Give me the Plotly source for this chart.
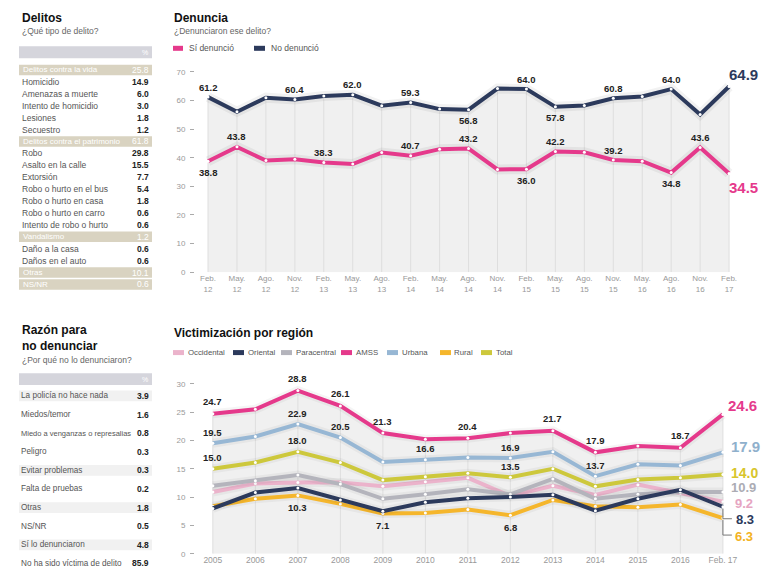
import plotly.graph_objects as go

W, H = 766, 588

# ---------------- data ----------------
crime_labels = ["Delitos contra la vida", "Homicidio", "Amenazas a muerte", "Intento de homicidio",
                "Lesiones", "Secuestro", "Delitos contra el patrimonio", "Robo", "Asalto en la calle",
                "Extorsión", "Robo o hurto en el bus", "Robo o hurto en casa", "Robo o hurto en carro",
                "Intento de robo o hurto", "Vandalismo", "Daño a la casa", "Daños en el auto",
                "Otras", "NS/NR"]
crime_values = ["25.8", "14.9", "6.0", "3.0", "1.8", "1.2", "61.8", "29.8", "15.5", "7.7", "5.4",
                "1.8", "0.6", "0.6", "1.2", "0.6", "0.6", "10.1", "0.6"]
crime_group = [1, 0, 0, 0, 0, 0, 1, 0, 0, 0, 0, 0, 0, 0, 1, 0, 0, 1, 1]

reason_labels = ["La policía no hace nada", "Miedos/temor", "Miedo a venganzas o represalias",
                 "Peligro", "Evitar problemas", "Falta de pruebas", "Otras", "NS/NR",
                 "Sí lo denunciaron", "No ha sido víctima de delito"]
reason_values = ["3.9", "1.6", "0.8", "0.3", "0.3", "0.2", "1.8", "0.5", "4.8", "85.9"]

den_periods = ["Feb.<br>12", "May.<br>12", "Ago.<br>12", "Nov.<br>12", "Feb.<br>13", "May.<br>13",
               "Ago.<br>13", "Feb.<br>14", "May.<br>14", "Ago.<br>14", "Nov.<br>14", "Feb.<br>15",
               "May.<br>15", "Ago.<br>15", "Nov.<br>15", "May.<br>16", "Ago.<br>16", "Nov.<br>16",
               "Feb.<br>17"]
si_denuncio = [38.8, 43.8, 39.0, 39.5, 38.3, 37.8, 41.8, 40.7, 43.0, 43.2, 35.9, 36.0, 42.2,
               41.9, 39.2, 38.8, 34.8, 43.6, 34.5]
no_denuncio = [61.2, 56.1, 61.0, 60.4, 61.6, 62.0, 58.2, 59.3, 57.0, 56.8, 64.2, 64.0, 57.8,
               58.3, 60.8, 61.4, 64.0, 55.1, 64.9]
si_labels = {0: "below", 1: "above", 4: "above", 7: "above", 9: "above", 11: "below",
             12: "above", 14: "above", 16: "below", 17: "above"}
no_labels = {0: "above", 3: "above", 5: "above", 7: "above", 9: "below", 11: "above",
             12: "below", 14: "above", 16: "above"}

years = ["2005", "2006", "2007", "2008", "2009", "2010", "2011", "2012", "2013", "2014",
         "2015", "2016", "Feb. 17"]
occidental = [10.9, 12.4, 12.6, 12.6, 11.9, 12.7, 13.4, 10.2, 12.0, 10.4, 12.2, 10.7, 9.2]
oriental = [8.0, 10.8, 11.6, 9.5, 7.5, 9.1, 9.8, 10.0, 10.4, 7.6, 9.7, 11.3, 8.3]
paracentral = [12.0, 12.9, 13.9, 12.3, 9.7, 10.5, 11.4, 10.5, 13.2, 9.7, 10.5, 10.9, 10.9]
amss = [24.7, 25.5, 28.8, 26.1, 21.3, 20.2, 20.4, 21.3, 21.7, 17.9, 19.0, 18.7, 24.6]
urbana = [19.5, 20.7, 22.9, 20.5, 16.2, 16.6, 17.0, 16.9, 18.0, 13.7, 15.8, 15.6, 17.9]
rural = [8.4, 9.7, 10.3, 8.8, 7.1, 7.2, 7.8, 6.8, 9.5, 8.4, 8.2, 8.7, 6.3]
total = [15.0, 16.1, 18.0, 16.1, 13.0, 13.6, 14.2, 13.5, 15.0, 11.9, 13.1, 13.4, 14.0]
amss_labels = [0, 2, 3, 4, 6, 8, 9, 11]
urbana_labels = [0, 2, 3, 5, 7, 9]
total_labels = [0, 2, 7]
rural_labels = [2, 4, 7]

# ---------------- style ----------------
PINK = "#e5398b"
NAVY = "#2c3a5c"
C_OCC = "#ebb3cb"
C_ORI = "#2c3a5c"
C_PAR = "#b4b4bc"
C_AMSS = "#e5398b"
C_URB = "#97b7d4"
C_RUR = "#f5b62c"
C_TOT = "#cdc83c"
FONT = "Liberation Sans"
TXT = "#555555"
FILL = "#f0f0f0"
GRID = "#dedede"


def px(x):
    return x / W


def py(y):
    return 1 - y / H


fig = go.Figure()
shapes = []
ann = []

# ---------------- top chart: Denuncia ----------------
n1 = len(den_periods)
x1 = list(range(n1))
top1 = [max(a, b) for a, b in zip(si_denuncio, no_denuncio)]
fig.add_trace(go.Scatter(x=x1, y=top1, mode="lines", line=dict(width=0), fill="tozeroy",
                         fillcolor=FILL, hoverinfo="skip", showlegend=False, xaxis="x", yaxis="y"))
gx, gy = [], []
for i, t in zip(x1, top1):
    gx += [i, i, None]
    gy += [0, t, None]
fig.add_trace(go.Scatter(x=gx, y=gy, mode="lines", line=dict(width=1, color=GRID),
                         hoverinfo="skip", showlegend=False, xaxis="x", yaxis="y"))
for vals, col in [(no_denuncio, NAVY), (si_denuncio, PINK)]:
    fig.add_trace(go.Scatter(x=x1, y=vals, mode="lines", line=dict(width=10, color="rgba(0,0,0,0.05)"),
                             hoverinfo="skip", showlegend=False, xaxis="x", yaxis="y"))
    fig.add_trace(go.Scatter(x=x1, y=vals, mode="lines+markers", line=dict(width=4, color=col),
                             marker=dict(size=3, color="white"), showlegend=False,
                             xaxis="x", yaxis="y"))

for vals, labs in [(si_denuncio, si_labels), (no_denuncio, no_labels)]:
    for i, pos in labs.items():
        ann.append(dict(x=i, y=vals[i], xref="x", yref="y", text=f"{vals[i]:.1f}", showarrow=False,
                        yshift=10 if pos == "above" else -11, yanchor="middle",
                        font=dict(family=FONT, size=9.5, color="#222", weight="bold")))
ann.append(dict(x=n1 - 1, y=no_denuncio[-1], xref="x", yref="y", text=f"{no_denuncio[-1]:.1f}",
                showarrow=False, xanchor="left", xshift=-2, yshift=12,
                font=dict(family=FONT, size=15, color=NAVY, weight="bold")))
ann.append(dict(x=n1 - 1, y=si_denuncio[-1], xref="x", yref="y", text=f"{si_denuncio[-1]:.1f}",
                showarrow=False, xanchor="left", xshift=-2, yshift=-14,
                font=dict(family=FONT, size=15, color=PINK, weight="bold")))

# ---------------- bottom chart: Victimización ----------------
n2 = len(years)
x2 = list(range(n2))
series = [("Occidental", occidental, C_OCC), ("Paracentral", paracentral, C_PAR),
          ("Rural", rural, C_RUR), ("Oriental", oriental, C_ORI), ("Total", total, C_TOT),
          ("Urbana", urbana, C_URB), ("AMSS", amss, C_AMSS)]
top2 = [max(v) for v in zip(*[s[1] for s in series])]
fig.add_trace(go.Scatter(x=x2, y=top2, mode="lines", line=dict(width=0), fill="tozeroy",
                         fillcolor=FILL, hoverinfo="skip", showlegend=False, xaxis="x2", yaxis="y2"))
gx, gy = [], []
for i, t in zip(x2, top2):
    gx += [i, i, None]
    gy += [0, t, None]
fig.add_trace(go.Scatter(x=gx, y=gy, mode="lines", line=dict(width=1, color=GRID),
                         hoverinfo="skip", showlegend=False, xaxis="x2", yaxis="y2"))
for name, vals, col in series:
    fig.add_trace(go.Scatter(x=x2, y=vals, mode="lines", line=dict(width=9, color="rgba(0,0,0,0.04)"),
                             hoverinfo="skip", showlegend=False, xaxis="x2", yaxis="y2"))
    fig.add_trace(go.Scatter(x=x2, y=vals, mode="lines+markers", name=name,
                             line=dict(width=4, color=col), marker=dict(size=3, color="white"),
                             showlegend=False, xaxis="x2", yaxis="y2"))

for vals, idxs, shift in [(amss, amss_labels, 12), (urbana, urbana_labels, 11),
                          (total, total_labels, 11), (rural, rural_labels, -12)]:
    for i in idxs:
        ann.append(dict(x=i, y=vals[i], xref="x2", yref="y2", text=f"{vals[i]:.1f}", showarrow=False,
                        yshift=shift, yanchor="middle",
                        font=dict(family=FONT, size=9.5, color="#222", weight="bold")))

end_labels = [(amss, "#e5398b", 4, 9, 15), (urbana, "#8fb0cc", 7, 6, 15),
              (total, "#d8c52c", 7, 1, 14), (paracentral, "#acacb4", 7, 5, 13),
              (occidental, "#e6a5c2", 11, -1.6, 13), (oriental, NAVY, 12, -13, 13),
              (rural, "#f3b223", 11, -18, 13)]
for vals, col, xs, ys, fs in end_labels:
    ann.append(dict(x=n2 - 1, y=vals[-1], xref="x2", yref="y2", text=f"{vals[-1]:.1f}",
                    showarrow=False, xanchor="left", yanchor="middle", xshift=xs, yshift=ys,
                    borderpad=0,
                    font=dict(family=FONT, size=fs, color=col, weight="bold")))
# small leader lines for the crowded end labels
for vals, dy in [(oriental, -12), (rural, -17)]:
    shapes.append(dict(type="path", xref="x2", yref="y2", xsizemode="pixel", ysizemode="pixel",
                       xanchor=n2 - 1, yanchor=vals[-1],
                       path=f"M 0,-2 L 0,{dy} L 9,{dy}", line=dict(color="#777", width=1)))

# ---------------- titles and legends ----------------
def text(x, y, s, size=8.5, color=TXT, weight="normal", xanchor="left", family=FONT):
    ann.append(dict(x=px(x), y=py(y), xref="paper", yref="paper", text=s, showarrow=False,
                    xanchor=xanchor, yanchor="middle", align="left",
                    font=dict(family=family, size=size, color=color, weight=weight)))


def rect(x0, y0, x1, y1, color):
    shapes.append(dict(type="rect", xref="paper", yref="paper", x0=px(x0), x1=px(x1),
                       y0=py(y1), y1=py(y0), fillcolor=color, line=dict(width=0), layer="below"))


def pill(x0, x1, y, color):
    shapes.append(dict(type="line", xref="paper", yref="paper", x0=px(x0), x1=px(x1),
                       y0=py(y), y1=py(y), line=dict(color=color, width=5)))


text(172, 14, "Denuncia", size=12, color="#111", weight="bold")
text(172, 27, "¿Denunciaron ese delito?", size=8.5, color="#666")
pill(173, 183, 45, PINK)
text(187, 45, "Sí denunció", size=8.5)
pill(254, 265, 45, NAVY)
text(269, 45, "No denunció", size=8.5)

text(172, 334, "Victimización por región", size=12, color="#111", weight="bold")
leg2 = [("Occidental", C_OCC, 173, 186), ("Oriental", C_ORI, 233, 246),
        ("Paracentral", C_PAR, 281, 294), ("AMSS", C_AMSS, 341, 354),
        ("Urbana", C_URB, 387, 400), ("Rural", C_RUR, 440, 452), ("Total", C_TOT, 481, 494)]
for name, col, xp, xt in leg2:
    pill(xp, xp + 11, 354, col)
    text(xt, 354, name, size=7.8)

# ---------------- left table 1 ----------------
text(20, 14, "Delitos", size=12, color="#111", weight="bold")
text(20, 27, "¿Qué tipo de delito?", size=8.5, color="#666")
rect(19, 43, 152, 55, "#d5d5dc")
text(150, 49, "%", size=7, color="white", xanchor="right")
for i, (lab, val, g) in enumerate(zip(crime_labels, crime_values, crime_group)):
    yc = 67 + i * 12.1
    if g:
        rect(19, yc - 5.3, 152, yc + 5.3, "#d9d3c1")
        text(21, yc, lab, size=8, color="white")
        text(151, yc, val, size=8.5, color="white", xanchor="right")
    else:
        text(20, yc, lab, size=8.5, color=TXT)
        text(151, yc, val, size=8.5, color="#222", weight="bold", xanchor="right")

# ---------------- left table 2 ----------------
text(20, 339, "Razón para<br>no denunciar", size=12, color="#111", weight="bold")
text(20, 362, "¿Por qué no lo denunciaron?", size=8.5, color="#666")
rect(19, 375, 152, 387, "#d5d5dc")
text(150, 381, "%", size=7, color="white", xanchor="right")
for i, (lab, val) in enumerate(zip(reason_labels, reason_values)):
    yc = 398 + i * 18.9
    if i in (0, 4, 6, 8):
        rect(19, yc - 5.5, 152, yc + 5.5, "#f1f1f1")
    text(19, yc, lab, size=8.2 if len(lab) < 30 else 7.5, color=TXT)
    text(151, yc, val, size=8.5, color="#222", weight="bold", xanchor="right")

# ---------------- axes ----------------
tickfont = dict(family=FONT, size=8, color="#999")
yax = dict(showgrid=False, zeroline=False, showline=False, tickfont=tickfont, ticks="outside",
           ticklen=4, tickcolor="#aaa", tickwidth=1, ticklabelstandoff=3, fixedrange=True)
fig.update_layout(
    width=W, height=H, margin=dict(l=0, r=0, t=0, b=0),
    paper_bgcolor="white", plot_bgcolor="rgba(0,0,0,0)",
    showlegend=False,
    xaxis=dict(domain=[px(195), px(745)], range=[-0.45, 18.55], tickvals=x1, ticktext=den_periods,
               showgrid=False, zeroline=False, showline=False, tickfont=tickfont, anchor="y",
               fixedrange=True),
    yaxis=dict(domain=[py(272.3), py(69)], range=[0, 70], tickvals=list(range(0, 71, 10)),
               anchor="x", **yax),
    xaxis2=dict(domain=[px(195), px(745)], range=[-0.42, 12.52], tickvals=x2, ticktext=years,
                showgrid=False, zeroline=False, showline=False,
                tickfont=dict(family=FONT, size=8.5, color="#999"), anchor="y2", fixedrange=True),
    yaxis2=dict(domain=[py(558.3), py(385.7)], range=[0, 30], tickvals=list(range(0, 31, 5)),
                anchor="x2", **yax),
    shapes=shapes,
    annotations=ann,
)

fig.write_html("out.html")
